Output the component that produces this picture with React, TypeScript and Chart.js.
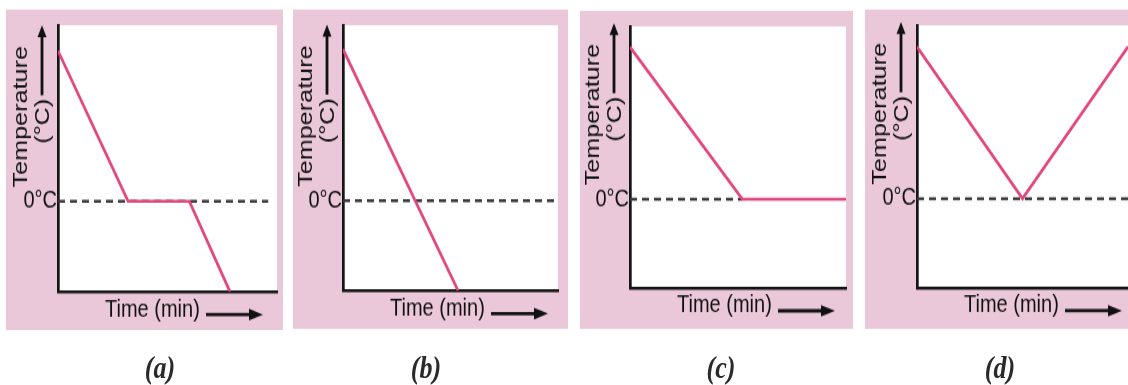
import React, { useEffect, useRef } from 'react';
import { Chart, registerables } from 'chart.js';

Chart.register(...registerables);

// ---- data ----
const panelLabels = ['(a)', '(b)', '(c)', '(d)'];
const yTitleLines = ['Temperature', '(°C)'];
const xTitle = 'Time (min)';
const yTickValues = [0];
const yTickLabel = '0°C';

const timeA = [0, 3.2, 6.0, 7.85];
const tempA = [10, 0, 0, -6];
const zeroLineA = [0, 9.6];

const timeB = [0, 5.35];
const tempB = [10.1, -6];
const zeroLineB = [0, 9.86];

const timeC = [0, 5.2, 10];
const tempC = [10.3, 0, 0];
const zeroLineC = [0, 5.2];

const timeD = [0, 5.0, 10];
const tempD = [10.25, 0, 10.25];
const zeroLineD = [0, 10];

const Y_MIN = -6;
const Y_MAX = 11.7;
const X_MIN = 0;
const X_MAX = 10;

// ---- style ----
const SY = 1.2; // vertical stretch of the reference picture
const FONT = '"Liberation Sans", Arial, sans-serif';
const SERIF = '"Liberation Serif", "Times New Roman", serif';
const PINK_LINE = '#e3467e';
const FRAME_BG = '#eac8da';
const TEXT = '#111111';
const AXIS = '#151515';
const DASH = '#3a3a3a';

type Box = { l: number; t: number; r: number; b: number };
type Panel = {
  label: string;
  time: number[];
  temp: number[];
  zero: number[];
  frame: Box;
  plot: Box;
};

const panels: Panel[] = [
  { label: panelLabels[0], time: timeA, temp: tempA, zero: zeroLineA,
    frame: { l: 6, t: 9, r: 283, b: 330 }, plot: { l: 58, t: 16, r: 277, b: 291 } },
  { label: panelLabels[1], time: timeB, temp: tempB, zero: zeroLineB,
    frame: { l: 293, t: 9, r: 568, b: 329 }, plot: { l: 343, t: 15, r: 558, b: 290 } },
  { label: panelLabels[2], time: timeC, temp: tempC, zero: zeroLineC,
    frame: { l: 580, t: 11, r: 853, b: 329 }, plot: { l: 630, t: 15, r: 846, b: 288 } },
  { label: panelLabels[3], time: timeD, temp: tempD, zero: zeroLineD,
    frame: { l: 865, t: 10, r: 1140, b: 329 }, plot: { l: 917, t: 15, r: 1128, b: 287 } },
];

const labelCenters = [
  { x: 160, y: 368 },
  { x: 426, y: 368 },
  { x: 721, y: 368 },
  { x: 1000, y: 368 },
];

const decorPlugin = {
  id: 'decor',
  beforeDraw(chart: any) {
    const { ctx, chartArea } = chart;
    ctx.save();
    ctx.fillStyle = '#ffffff';
    ctx.fillRect(chartArea.left, chartArea.top, chartArea.right - chartArea.left, chartArea.bottom - chartArea.top);
    ctx.restore();
  },
  afterDraw(chart: any) {
    const { ctx, chartArea } = chart;
    const left = chartArea.left;
    const bottom = chartArea.bottom;
    const zeroPx = chart.scales.y.getPixelForValue(0);
    ctx.save();
    ctx.fillStyle = TEXT;
    ctx.strokeStyle = TEXT;
    ctx.textAlign = 'center';
    ctx.textBaseline = 'middle';
    ctx.font = `21px ${FONT}`;
    // y title, two rotated lines
    ctx.save();
    ctx.translate(left - 36.5, zeroPx - 84.5 / SY);
    ctx.rotate(-Math.PI / 2);
    ctx.fillText(yTitleLines[0], 0, 0);
    ctx.restore();
    ctx.save();
    ctx.translate(left - 15, zeroPx - 80 / SY);
    ctx.rotate(-Math.PI / 2);
    ctx.fillText(yTitleLines[1], 0, 0);
    ctx.restore();
    // vertical arrow
    const ax = left - 16;
    const ay0 = zeroPx - 106 / SY;
    const ay1 = zeroPx - 176 / SY;
    ctx.lineWidth = 2.8;
    ctx.beginPath();
    ctx.moveTo(ax, ay0);
    ctx.lineTo(ax, ay1 + 7);
    ctx.stroke();
    ctx.beginPath();
    ctx.moveTo(ax, ay1);
    ctx.lineTo(ax - 4.5, ay1 + 10);
    ctx.lineTo(ax + 4.5, ay1 + 10);
    ctx.closePath();
    ctx.fill();
    // x title
    ctx.font = `20px ${FONT}`;
    ctx.textAlign = 'left';
    ctx.fillText(xTitle, left + 47, bottom + 18 / SY);
    // horizontal arrow
    const hy = bottom + 23 / SY;
    ctx.lineWidth = 2.8;
    ctx.beginPath();
    ctx.moveTo(left + 148, hy);
    ctx.lineTo(left + 194, hy);
    ctx.stroke();
    ctx.beginPath();
    ctx.moveTo(left + 205, hy);
    ctx.lineTo(left + 191, hy - 4.8);
    ctx.lineTo(left + 191, hy + 4.8);
    ctx.closePath();
    ctx.fill();
    ctx.restore();
  },
};

function PanelChart({ p }: { p: Panel }) {
  const ref = useRef<HTMLCanvasElement>(null);
  const frameW = p.frame.r - p.frame.l;
  const frameH = (p.frame.b - p.frame.t) / SY;

  useEffect(() => {
    if (!ref.current) return;
    const padTop = (p.plot.t - p.frame.t) / SY;
    const xScaleH = (p.frame.b - p.plot.b) / SY;
    const yScaleW = p.plot.l - p.frame.l;
    const padRight = p.frame.r - p.plot.r;
    const chart = new Chart(ref.current, {
      type: 'line',
      data: {
        datasets: [
          {
            data: p.time.map((x, i) => ({ x, y: p.temp[i] })),
            borderColor: PINK_LINE,
            borderWidth: 2.7,
            pointRadius: 0,
            tension: 0,
            fill: false,
            order: 0,
          },
          {
            data: p.zero.map((x) => ({ x, y: 0 })),
            borderColor: DASH,
            borderWidth: 2.4,
            borderDash: [7, 5],
            pointRadius: 0,
            tension: 0,
            fill: false,
            order: 1,
          },
        ],
      },
      options: {
        animation: false,
        responsive: true,
        maintainAspectRatio: false,
        events: [],
        layout: { padding: { top: padTop, right: padRight, left: 0, bottom: 0 } },
        plugins: { legend: { display: false }, tooltip: { enabled: false } },
        scales: {
          x: {
            type: 'linear',
            min: X_MIN,
            max: X_MAX,
            ticks: { display: false },
            grid: { display: false, drawTicks: false },
            border: { display: true, color: AXIS, width: 2.5 },
            afterFit: (s: any) => { s.height = xScaleH; },
          },
          y: {
            type: 'linear',
            min: Y_MIN,
            max: Y_MAX,
            afterBuildTicks: (s: any) => { s.ticks = yTickValues.map((v) => ({ value: v })); },
            ticks: {
              autoSkip: false,
              padding: 1,
              color: TEXT,
              font: { family: FONT, size: 20 },
              callback: () => yTickLabel,
            },
            grid: { display: false, drawTicks: false },
            border: { display: true, color: AXIS, width: 2.7 },
            afterFit: (s: any) => { s.width = yScaleW; },
          },
        },
      },
      plugins: [decorPlugin],
    } as any);
    return () => chart.destroy();
  }, []);

  return (
    <div
      style={{
        position: 'absolute',
        left: p.frame.l,
        top: p.frame.t / SY,
        width: frameW,
        height: frameH,
        background: FRAME_BG,
      }}
    >
      <div style={{ position: 'relative', width: frameW, height: frameH }}>
        <canvas ref={ref} style={{ display: 'block' }} />
      </div>
    </div>
  );
}

export default function App() {
  return (
    <div
      style={{
        position: 'fixed',
        left: 0,
        top: 0,
        width: 1128,
        height: 385,
        overflow: 'hidden',
        background: '#ffffff',
      }}
    >
      <div
        style={{
          position: 'absolute',
          left: 0,
          top: 0,
          width: 1128,
          height: 385 / SY,
          transform: `scaleY(${SY})`,
          transformOrigin: '0 0',
        }}
      >
        {panels.map((p, i) => (
          <PanelChart key={i} p={p} />
        ))}
        {panels.map((p, i) => (
          <div
            key={'l' + i}
            style={{
              position: 'absolute',
              left: labelCenters[i].x,
              top: labelCenters[i].y / SY,
              transform: 'translate(-50%, -50%)',
              fontFamily: SERIF,
              fontStyle: 'italic',
              fontWeight: 'bold',
              fontSize: 26,
              color: '#2a2a2a',
              whiteSpace: 'nowrap',
              lineHeight: 1,
            }}
          >
            {p.label}
          </div>
        ))}
      </div>
    </div>
  );
}
